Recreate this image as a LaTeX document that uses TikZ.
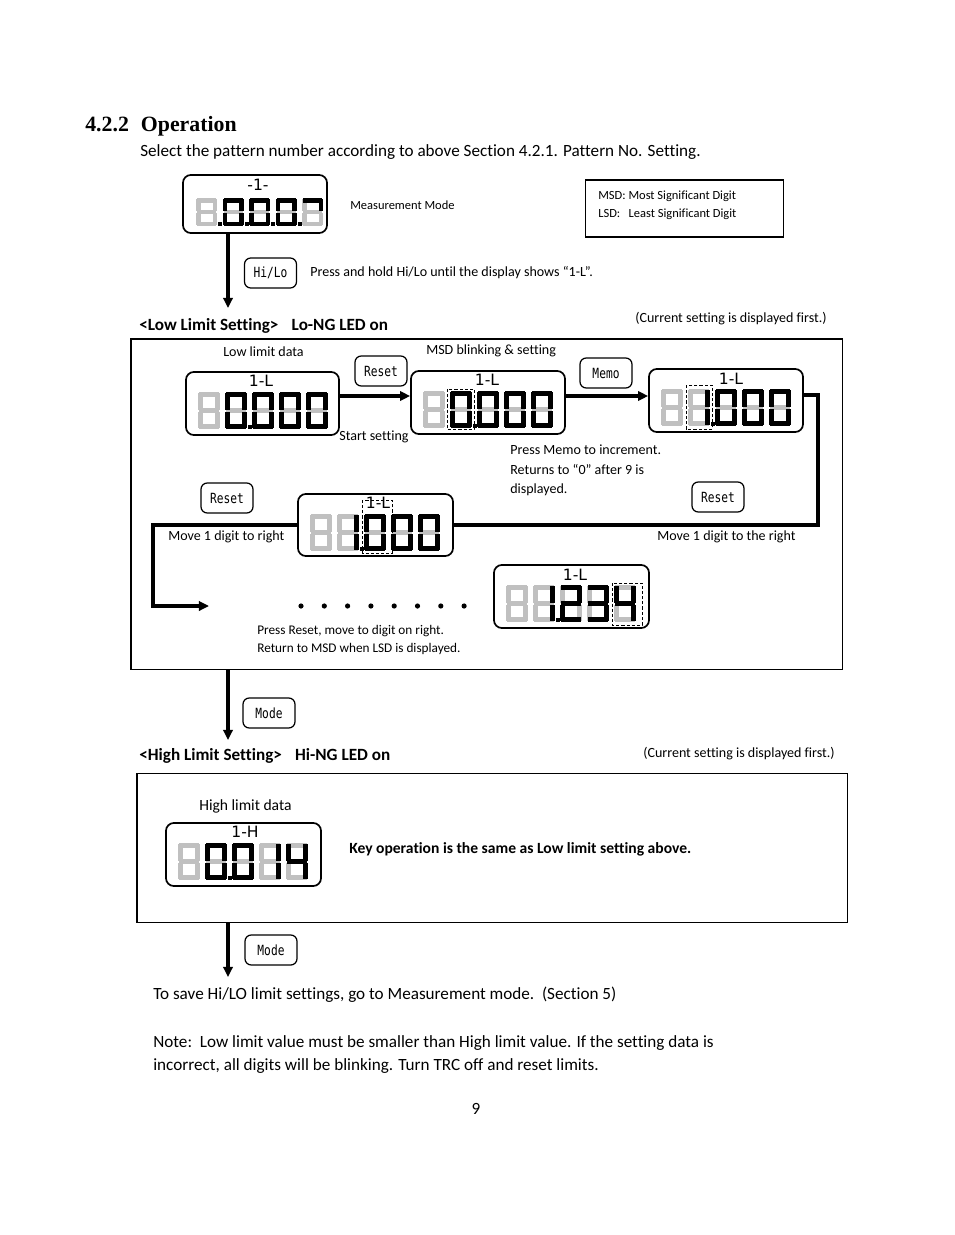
\documentclass[tikz,border=0pt]{standalone}
\usepackage{fontspec}
\setmainfont{Carlito}[Ligatures={NoCommon}]
\newfontfamily\headfont{Liberation Serif}
\newfontfamily\lcdfont{DejaVu Sans}
\newfontfamily\keyfont{DejaVu Sans Mono}[FakeStretch=0.8]
\usetikzlibrary{arrows.meta}
\definecolor{seggray}{RGB}{192,192,192}
\newcommand\pxu{0.6417pt}
\newcommand\fs[1]{\fontsize{#1}{#1}\selectfont}
% seven-segment digit
\def\sga{(\dX+1,\dY) rectangle (\dX+\dW-1,\dY+\dT)}
\def\sgb{(\dX+\dW-\dT,\dY+1) rectangle (\dX+\dW,\dY+\dH/2-1)}
\def\sgc{(\dX+\dW-\dT,\dY+\dH/2+1) rectangle (\dX+\dW,\dY+\dH-1)}
\def\sgd{(\dX+1,\dY+\dH-\dT) rectangle (\dX+\dW-1,\dY+\dH)}
\def\sge{(\dX,\dY+\dH/2+1) rectangle (\dX+\dT,\dY+\dH-1)}
\def\sgf{(\dX,\dY+1) rectangle (\dX+\dT,\dY+\dH/2-1)}
\def\sgg{(\dX+1,\dY+\dH/2-\dT/2) rectangle (\dX+\dW-1,\dY+\dH/2+\dT/2)}
\def\sgn{}
\newcommand\drawseg[2]{\edef\tmpseg{\noexpand\fill[#1] \csname sg#2\endcsname;}\tmpseg}
\newcommand\sdigit[3]{\def\dX{#1}\def\dY{#2}%
  \foreach \s in {a,b,c,d,e,f,g}{\drawseg{seggray}{\s}}%
  \foreach \s in #3{\drawseg{black}{\s}}}
\newcommand\drow[7]{\sdigit{#1}{#2}{#3}\sdigit{#1+\dP}{#2}{#4}\sdigit{#1+2*\dP}{#2}{#5}\sdigit{#1+3*\dP}{#2}{#6}\sdigit{#1+4*\dP}{#2}{#7}}
\newcommand\segdot[2]{\fill (#1+\dW+1,#2+\dH-4) rectangle (#1+\dW+5,#2+\dH);}
\def\Dz{a,b,c,d,e,f}
\def\Do{b,c}
\def\Dtw{a,b,g,e,d}
\def\Dth{a,b,g,c,d}
\def\Dfo{f,g,b,c}
\def\De{n}
\def\Dm{a,b}
\begin{document}
\begin{tikzpicture}[x=0.6417pt,y=-0.6417pt,
  txt/.style={inner sep=0pt,anchor=west,yshift=-1.2pt,font=\fs{9}},
  dispbox/.style={draw,line width=1.1pt,rounded corners=5pt,inner sep=0pt},
  keybox/.style={draw,line width=0.8pt,rounded corners=4pt,inner sep=0pt,
     minimum width=52*\pxu,minimum height=30*\pxu,font=\keyfont\fs{9}},
  frame/.style={draw,line width=0.65pt,inner sep=0pt},
  lcdlabel/.style={inner sep=0pt,font=\lcdfont\fs{10}},
  arr/.style={line width=2pt,-{Triangle[length=6.5pt,width=6pt]}},
  ln/.style={line width=2pt},
  sel/.style={draw,line width=0.6pt,dash pattern=on 2pt off 1.3pt}]
\useasboundingbox (0,0) rectangle (954,1235);
\fill[white] (0,0) rectangle (954,1235);

% heading
\node[inner sep=0pt,anchor=base west,font=\headfont\bfseries\fs{14}] (head) at (85,131) {4.2.2\hspace{0.55em}Operation};
\node[txt,font=\fs{11}] (intro) at (140,150) {Select the pattern number according to above Section 4.2.1. Pattern No. Setting.};

% measurement display
\node[dispbox,minimum width=144*\pxu,minimum height=58*\pxu] (D0) at (255,204) {};
\node[lcdlabel] (L0) at (258,185) {-1-};
\def\dW{21}\def\dH{28}\def\dT{4.5}\def\dP{26.5}
\drow{196}{198}{\De}{\Dz}{\Dz}{\Dz}{\Dm}
\segdot{196}{198}\segdot{222.5}{198}\segdot{249}{198}\segdot{275.5}{198}
\node[txt,font=\fs{8}] (mm) at (350,203) {Measurement Mode};

\node[frame,minimum width=198*\pxu,minimum height=57*\pxu] (msd) at (684,208.5) {};
\node[txt,font=\fs{8}] (msd1) at (598,194) {MSD: Most Significant Digit};
\node[txt,font=\fs{8}] (msd2) at (598,212) {LSD:\ \ \ Least Significant Digit};

\coordinate (a1) at (228,308);
\draw[arr] (D0.south -| a1) -- (a1);
\node[keybox] (khilo) at (270.5,273) {Hi/Lo};
\node[txt] (t1) at (310,271) {Press and hold Hi/Lo until the display shows “1-L”.};

% low limit
\node[txt,font=\bfseries\fs{11}] (lowtitle) at (139,324) {<Low Limit Setting>\hspace{8.5pt}Lo-NG LED on};
\node[txt,font=\fs{9}] (cur1) at (635,317) {(Current setting is displayed first.)};
\node[frame,minimum width=711*\pxu,minimum height=330*\pxu] (low) at (486.5,504) {};

\def\dW{22}\def\dH{37}\def\dT{5}\def\dP{27}
% D1
\node[txt] (lld) at (223,350) {Low limit data};
\node[dispbox,minimum width=153*\pxu,minimum height=63*\pxu] (D1) at (262.5,403.5) {};
\node[lcdlabel] (L1) at (261,381) {1-L};
\drow{198}{392}{\De}{\Dz}{\Dz}{\Dz}{\Dz}
\segdot{225}{392}
% D2
\node[txt] (msdb) at (426,349) {MSD blinking \& setting};
\node[dispbox,minimum width=154*\pxu,minimum height=63*\pxu] (D2) at (488,402.5) {};
\node[lcdlabel] (L2) at (487,380) {1-L};
\drow{423}{391}{\De}{\Dz}{\Dz}{\Dz}{\Dz}
\segdot{450}{391}
\draw[sel] (447,389) rectangle (474,429);
% D3
\node[dispbox,minimum width=154*\pxu,minimum height=63*\pxu] (D3) at (726,400.5) {};
\node[lcdlabel] (L3) at (731,379) {1-L};
\drow{661}{389}{\De}{\Do}{\Dz}{\Dz}{\Dz}
\segdot{688}{389}
\draw[sel] (686,385) rectangle (712,429);

\node[keybox] (kreset1) at (381,371) {Reset};
\node[keybox] (kmemo) at (606,373) {Memo};
\node[txt] (ss) at (339,435) {Start setting};
\coordinate (r1) at (0,396);
\draw[arr] (D1.east |- r1) -- (D2.west |- r1);
\draw[arr] (D2.east |- r1) -- (D3.west |- r1);

\node[txt] (pm1) at (510,448) {Press Memo to increment.};
\node[txt] (pm2) at (510,468) {Returns to “0” after 9 is};
\node[txt] (pm3) at (510,488) {displayed.};

% D4
\node[dispbox,minimum width=155*\pxu,minimum height=62*\pxu] (D4) at (375.5,525) {};
\node[lcdlabel] (L4) at (378,503) {1-L};
\drow{310}{514}{\De}{\Do}{\Dz}{\Dz}{\Dz}
\segdot{337}{514}
\draw[sel] (362,500) rectangle (392,553);

\node[keybox] (kreset2) at (718,497) {Reset};
\node[keybox] (kreset3) at (227,498) {Reset};
\node[txt] (mr1) at (657,535) {Move 1 digit to the right};
\node[txt] (mr2) at (168,535) {Move 1 digit to right};

\coordinate (r2) at (0,395);
\coordinate (c1) at (818,525);
\draw[ln] (D3.east |- r2) -| (c1) -- (D4.east);
\coordinate (c2) at (153,606);
\coordinate (a3) at (209,606);
\draw[arr] (D4.west) -| (c2) -- (a3);

\foreach \i in {0,...,7} \fill (301+\i*23.3,606) circle (2.6);

% D5
\node[dispbox,minimum width=155*\pxu,minimum height=63*\pxu] (D5) at (571.5,596.5) {};
\node[lcdlabel] (L5) at (575,575) {1-L};
\drow{506}{585}{\De}{\Do}{\Dtw}{\Dth}{\Dfo}
\segdot{533}{585}
\draw[sel] (612,583) rectangle (642,625);

\node[txt,font=\fs{8.5}] (pr1) at (257,629) {Press Reset, move to digit on right.};
\node[txt,font=\fs{8.5}] (pr2) at (257,647) {Return to MSD when LSD is displayed.};

% to high
\coordinate (a2) at (228,740);
\draw[arr] (low.south -| a2) -- (a2);
\node[keybox] (kmode1) at (269,713) {Mode};

\node[txt,font=\bfseries\fs{11}] (hightitle) at (139,754) {<High Limit Setting>\hspace{8.5pt}Hi-NG LED on};
\node[txt,font=\fs{9}] (cur2) at (643,752) {(Current setting is displayed first.)};
\node[frame,minimum width=710*\pxu,minimum height=149*\pxu] (high) at (492,847.5) {};
\node[txt,font=\fs{10}] (hld) at (199,805) {High limit data};
\node[dispbox,minimum width=155*\pxu,minimum height=63*\pxu] (D6) at (243.5,854.5) {};
\node[lcdlabel] (L6) at (245,832) {1-H};
\drow{178}{843}{\De}{\Dz}{\Dz}{\Do}{\Dfo}
\segdot{205}{843}
\node[txt,font=\bfseries\fs{10}] (keyop) at (349,847) {Key operation is the same as Low limit setting above.};

\coordinate (a4) at (228,977);
\draw[arr] (high.south -| a4) -- (a4);
\node[keybox] (kmode2) at (271,950) {Mode};

\node[txt,font=\fs{11}] (save) at (153,993) {To save Hi/LO limit settings, go to Measurement mode.\ \ (Section 5)};
\node[txt,font=\fs{11}] (note1) at (153,1041) {Note:\ \ Low limit value must be smaller than High limit value. If the setting data is};
\node[txt,font=\fs{11}] (note2) at (153,1064) {incorrect, all digits will be blinking. Turn TRC off and reset limits.};
\node[inner sep=0pt,font=\fs{11}] (page) at (476,1109) {9};
\end{tikzpicture}
\end{document}
